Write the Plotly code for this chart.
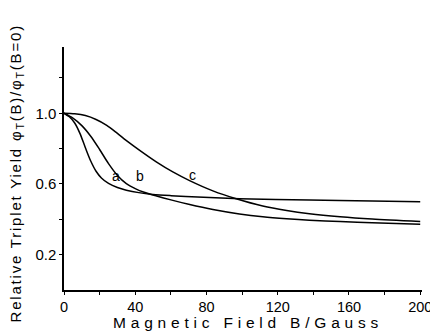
import plotly.graph_objects as go

# Data (B in Gauss, relative triplet yield)
b_a = [0, 3, 6, 9, 12, 15, 18, 21, 25, 30, 35, 42, 50, 60, 75, 98.5, 137.8, 173, 200]
y_a = [1.0, 0.980, 0.945, 0.885, 0.805, 0.730, 0.672, 0.634, 0.603, 0.580, 0.565, 0.551, 0.541,
       0.534, 0.526, 0.517, 0.509, 0.503, 0.500]

b_b = [0, 5, 10, 15, 20, 25, 30, 35, 40, 45, 52, 60, 70, 83.6, 98.5, 111.6, 125, 137.8, 155, 173, 200]
y_b = [1.0, 0.972, 0.930, 0.870, 0.795, 0.715, 0.648, 0.602, 0.574, 0.553, 0.532, 0.510, 0.485,
       0.455, 0.430, 0.414, 0.403, 0.395, 0.387, 0.380, 0.372]

b_c = [0, 6, 12, 18, 24, 30, 36, 42.5, 51.8, 61.1, 70.5, 83.6, 96.7, 111.6, 125, 137.8, 155, 173, 200]
y_c = [1.0, 0.997, 0.987, 0.965, 0.932, 0.886, 0.838, 0.790, 0.725, 0.668, 0.619, 0.561, 0.516,
       0.475, 0.450, 0.432, 0.415, 0.402, 0.388]

curve_names = ["a", "b", "c"]
label_x = [29.4, 42.5, 72.4]
label_y = [0.645, 0.645, 0.648]

x_ticks = [0, 40, 80, 120, 160, 200]
x_minor = [20, 60, 100, 140, 180]
y_ticks = [0.2, 0.6, 1.0]
y_tick_text = ["0.2", "0.6", "1.0"]
y_minor = [0.4, 0.8, 1.2]

x_title = "Magnetic Field B/Gauss"
y_title = "Relative Triplet Yield φ<sub>T</sub>(B)/φ<sub>T</sub>(B=0)"

FONT = "Liberation Sans"

fig = go.Figure()
for bx, by, nm in zip([b_a, b_b, b_c], [y_a, y_b, y_c], curve_names):
    fig.add_trace(go.Scatter(x=bx, y=by, mode="lines", name=nm,
                             line=dict(color="black", width=1.5, shape="spline", smoothing=0.8),
                             showlegend=False, hoverinfo="skip"))

for nm, lx, ly in zip(curve_names, label_x, label_y):
    fig.add_annotation(x=lx, y=ly, text=nm, showarrow=False,
                       font=dict(family=FONT, size=14, color="black"))

# axis titles as annotations for exact placement
fig.add_annotation(xref="paper", yref="paper", x=0.5, y=0, xanchor="center", yanchor="top",
                   xshift=5, yshift=-22, showarrow=False,
                   text=f'<span style="letter-spacing:4.8px">{x_title}</span>',
                   font=dict(family=FONT, size=15.5, color="black"))
fig.add_annotation(xref="paper", yref="paper", x=0, y=0.5, xanchor="center", yanchor="middle",
                   xshift=-48, yshift=-5, textangle=-90, showarrow=False,
                   text=f'<span style="letter-spacing:1.8px">{y_title}</span>',
                   font=dict(family=FONT, size=15, color="black"))

axis_common = dict(showline=True, linecolor="black", linewidth=1.5,
                   ticks="outside", ticklen=3, tickwidth=1.2, tickcolor="black",
                   showgrid=False, zeroline=False, mirror=False, automargin=False)

fig.update_xaxes(range=[0, 201], tickmode="array", tickvals=x_ticks,
                 ticktext=[str(v) for v in x_ticks],
                 tickfont=dict(family=FONT, size=14.5, color="black"),
                 minor=dict(tickmode="array", tickvals=x_minor, ticks="outside", ticklen=3,
                            tickcolor="black", tickwidth=1.2),
                 **axis_common)
fig.update_yaxes(range=[0, 1.375], tickmode="array", tickvals=y_ticks, ticktext=y_tick_text,
                 tickfont=dict(family=FONT, size=15, color="black"),
                 minor=dict(tickmode="array", tickvals=y_minor, ticks="outside", ticklen=3,
                            tickcolor="black", tickwidth=1.2),
                 **axis_common)

fig.update_layout(width=438, height=336, margin=dict(l=56, r=24, t=39, b=54),
                  paper_bgcolor="white", plot_bgcolor="white")

fig.write_html("out.html")
